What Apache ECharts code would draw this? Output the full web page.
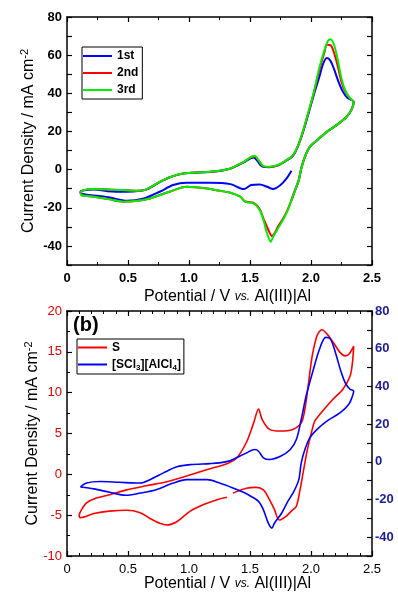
<!DOCTYPE html>
<html>
<head>
<meta charset="utf-8">
<script src="https://cdn.jsdelivr.net/npm/echarts@6/dist/echarts.min.js"></script>
<style>
  html, body { margin: 0; padding: 0; background: #fff; }
  #chart { width: 398px; height: 595px; }
</style>
</head>
<body>
<div id="chart"></div>
<script>
// (a) CV cycles, potential V vs current density mA cm-2
const cycle1 = [
  [1.84,-0.6],[1.80,-4.6],[1.75,-8.1],[1.69,-10.2],[1.64,-9.0],[1.58,-7.8],[1.51,-8.1],[1.45,-10.2],
  [1.34,-7.6],[1.17,-6.9],[0.98,-6.9],[0.87,-8.1],[0.76,-11.6],[0.63,-15.1],[0.49,-16.3],[0.35,-14.6],
  [0.22,-13.6],[0.12,-12.6],[0.11,-11.8],[0.13,-11.0],[0.22,-10.4],[0.33,-11.3],[0.49,-11.6],[0.60,-11.1],
  [0.66,-10.2],[0.76,-6.6],[0.85,-3.9],[0.95,-2.1],[1.05,-1.6],[1.17,-1.2],[1.25,-0.7],[1.34,0.5],
  [1.40,2.3],[1.45,3.8],[1.51,6.0],[1.53,6.3],[1.56,4.6],[1.60,1.6],[1.66,1.3],[1.73,2.2],[1.80,4.8],
  [1.84,6.5],[1.87,9.0],[1.91,15.0],[1.96,25.0],[2.02,38.5],[2.07,49.0],[2.10,55.5],[2.13,58.5],
  [2.16,57.0],[2.19,52.5],[2.22,47.0],[2.26,41.0],[2.30,37.5],[2.35,35.5],[2.33,31.2],[2.29,27.6],
  [2.21,23.3],[2.13,19.8],[2.05,15.4],[1.99,11.9],[1.95,6.7],[1.92,0.6],[1.90,-5.5],[1.87,-10.7],[1.84,-16.0]
];
const cycle2 = [
  [0.11,-12.0],[0.13,-10.9],[0.20,-10.1],[0.30,-10.3],[0.44,-10.7],[0.58,-11.1],[0.64,-10.6],[0.70,-8.6],
  [0.76,-6.4],[0.85,-3.8],[0.95,-2.0],[1.05,-1.5],[1.17,-1.1],[1.25,-0.6],[1.34,0.6],[1.40,2.5],
  [1.45,4.1],[1.51,6.5],[1.54,6.9],[1.57,4.8],[1.61,1.7],[1.66,1.4],[1.73,2.3],[1.80,4.9],[1.84,6.6],
  [1.87,9.2],[1.91,15.3],[1.96,25.6],[2.02,39.5],[2.07,52.5],[2.11,61.5],[2.13,65.5],[2.16,65.3],
  [2.19,61.0],[2.22,54.0],[2.25,46.0],[2.28,41.0],[2.32,37.3],[2.35,35.5],[2.33,31.2],[2.29,27.6],
  [2.21,23.3],[2.13,19.8],[2.05,15.4],[1.99,11.9],[1.95,6.7],[1.92,0.6],[1.90,-5.5],[1.87,-10.7],
  [1.84,-16.0],[1.81,-20.8],[1.77,-25.8],[1.73,-29.8],[1.70,-33.5],[1.68,-34.8],[1.65,-31.5],[1.61,-25.6],
  [1.58,-20.8],[1.53,-17.5],[1.46,-16.7],[1.42,-14.2],[1.34,-12.1],[1.25,-11.1],[1.15,-9.9],[0.98,-9.0],
  [0.84,-11.6],[0.68,-15.1],[0.56,-16.5],[0.46,-16.8],[0.35,-15.6],[0.22,-14.2],[0.12,-13.4],[0.11,-12.0]
];
const cycle3 = [
  [0.11,-12.0],[0.13,-10.9],[0.20,-10.1],[0.30,-10.3],[0.44,-10.7],[0.58,-11.1],[0.64,-10.6],[0.70,-8.6],
  [0.76,-6.4],[0.85,-3.8],[0.95,-2.0],[1.05,-1.5],[1.17,-1.1],[1.25,-0.6],[1.34,0.6],[1.40,2.5],
  [1.45,4.1],[1.51,6.7],[1.54,7.1],[1.57,5.0],[1.61,1.8],[1.66,1.5],[1.73,2.4],[1.80,5.0],[1.84,6.7],
  [1.87,9.3],[1.91,15.4],[1.96,25.9],[2.02,39.9],[2.07,53.8],[2.11,62.6],[2.14,67.5],[2.16,68.3],
  [2.19,65.2],[2.22,57.3],[2.25,47.7],[2.28,41.6],[2.32,37.3],[2.35,35.5],[2.33,31.2],[2.29,27.6],
  [2.21,23.3],[2.13,19.8],[2.05,15.4],[1.99,11.9],[1.95,6.7],[1.92,0.6],[1.90,-5.5],[1.87,-10.7],
  [1.84,-16.0],[1.81,-21.2],[1.77,-26.4],[1.73,-30.8],[1.69,-35.2],[1.67,-37.8],[1.64,-33.4],[1.61,-26.4],
  [1.58,-21.2],[1.53,-17.7],[1.46,-16.8],[1.42,-14.2],[1.34,-12.1],[1.25,-11.1],[1.15,-9.9],[0.98,-9.0],
  [0.84,-11.6],[0.68,-15.1],[0.56,-16.5],[0.46,-16.8],[0.35,-15.6],[0.22,-14.2],[0.12,-13.4],[0.11,-12.0]
];

// (b) S on left axis, [SCl3][AlCl4] on right axis
const sulfur = [
  [1.31,-2.8],[1.23,-3.1],[1.12,-3.7],[1.01,-4.5],[0.90,-5.8],[0.82,-6.2],[0.76,-6.0],[0.68,-5.4],
  [0.60,-4.7],[0.49,-4.4],[0.35,-4.5],[0.22,-4.8],[0.11,-5.3],[0.10,-5.0],[0.12,-4.3],[0.16,-3.5],
  [0.24,-2.9],[0.35,-2.5],[0.49,-1.9],[0.65,-1.4],[0.82,-0.9],[0.98,-0.2],[1.15,0.6],[1.31,1.3],
  [1.39,2.0],[1.47,3.9],[1.53,6.3],[1.57,8.0],[1.60,6.7],[1.66,5.5],[1.75,5.3],[1.85,5.5],[1.92,6.3],
  [1.95,8.0],[1.98,11.2],[2.01,14.5],[2.05,17.0],[2.09,17.7],[2.13,17.2],[2.18,16.2],[2.24,14.9],
  [2.28,14.5],[2.31,14.7],[2.35,15.7],[2.34,13.7],[2.32,12.0],[2.26,10.4],[2.18,9.2],[2.07,7.3],
  [2.03,6.5],[2.01,5.5],[1.97,3.0],[1.94,0.6],[1.91,-1.9],[1.88,-3.9],[1.84,-4.5],[1.79,-5.2],
  [1.74,-5.6],[1.70,-4.3],[1.66,-3.1],[1.61,-1.9],[1.55,-1.6],[1.47,-1.7],[1.36,-2.3]
];
const scl3 = [
  [0.11,-13.4],[0.16,-11.3],[0.27,-10.5],[0.43,-10.9],[0.60,-11.3],[0.68,-9.5],[0.79,-5.9],[0.90,-2.7],
  [1.01,-1.5],[1.17,-1.0],[1.25,-0.6],[1.34,0.6],[1.39,2.1],[1.47,4.7],[1.54,6.5],[1.57,5.6],[1.61,2.1],
  [1.66,1.2],[1.75,2.9],[1.83,6.5],[1.88,11.8],[1.92,22.5],[1.96,34.9],[2.02,49.1],[2.07,59.8],
  [2.12,66.0],[2.16,65.1],[2.20,58.0],[2.24,49.1],[2.28,42.0],[2.32,38.5],[2.35,37.6],[2.34,34.9],
  [2.31,30.5],[2.24,26.1],[2.13,21.6],[2.05,17.2],[1.99,12.7],[1.95,6.5],[1.92,-0.6],[1.90,-9.5],
  [1.86,-15.7],[1.81,-21.0],[1.76,-27.2],[1.70,-32.6],[1.68,-35.2],[1.65,-32.6],[1.61,-25.5],[1.57,-21.0],
  [1.51,-18.4],[1.46,-16.6],[1.36,-13.9],[1.25,-11.3],[1.15,-9.5],[0.98,-9.5],[0.87,-11.3],[0.73,-14.8],
  [0.60,-16.6],[0.48,-17.8],[0.35,-16.2],[0.22,-14.4],[0.11,-13.4]
];

const legendA = ['1st', '2nd', '3rd'];
const legendB = ['S', '[SCl3][AlCl4]'];

const FONT = '"Liberation Sans", Arial, sans-serif';
const xName = 'Potential / V {i|vs.} Al(III)|Al';
const yName = 'Current Density / mA cm{sup|-2}';

function xAxisCfg(grid, pos, showLabel, minorSplit, nameGap, bold) {
  return {
    type: 'value', gridIndex: grid, position: pos, min: 0, max: 2.5, interval: 0.5,
    axisLine: { show: true, onZero: false, lineStyle: { color: '#000', width: 1.5 } },
    axisTick: { show: true, inside: true, length: 5, lineStyle: { color: '#000', width: 1.2 } },
    minorTick: { show: true, splitNumber: minorSplit, length: 3, lineStyle: { color: '#000', width: 1 } },
    splitLine: { show: false },
    axisLabel: {
      show: showLabel, margin: 7, color: '#000', fontSize: 13, fontFamily: FONT,
      fontWeight: bold ? 'bold' : 'normal',
      formatter: v => v === 0 ? '0' : v.toFixed(1)
    },
    name: showLabel ? xName : '', nameLocation: 'middle', nameGap: nameGap, nameMoveOverlap: false,
    nameTextStyle: {
      color: '#000', fontSize: 16, fontFamily: FONT, padding: [0, 0, 0, 16],
      rich: { i: { fontSize: 12, fontStyle: 'italic', fontFamily: FONT, color: '#000' } }
    }
  };
}

function yAxisCfg(grid, pos, min, max, interval, opts) {
  return {
    type: 'value', gridIndex: grid, position: pos, min: min, max: max, interval: interval,
    axisLine: { show: true, onZero: false, lineStyle: { color: '#000', width: 1.5 } },
    axisTick: { show: true, inside: true, length: 5, lineStyle: { color: '#000', width: 1.2 } },
    minorTick: { show: !!opts.minor, splitNumber: opts.minor || 2, length: 3, lineStyle: { color: '#000' } },
    splitLine: { show: false },
    axisLabel: {
      show: !!opts.label, margin: opts.margin || 5, color: opts.color || '#000', fontSize: 13,
      fontFamily: FONT, fontWeight: opts.bold ? 'bold' : 'normal',
      formatter: opts.step ? (v => v % opts.step === 0 ? String(v) : '') : (v => String(v))
    },
    name: opts.name ? yName : '', nameLocation: 'middle', nameGap: opts.nameGap || 30,
    nameMoveOverlap: false,
    nameTextStyle: {
      color: '#000', fontSize: 16, fontFamily: FONT,
      rich: { sup: { fontSize: 11, fontFamily: FONT, color: '#000', verticalAlign: 'top', lineHeight: 20 } }
    }
  };
}

function line(name, data, color, xi, yi, width) {
  return {
    name: name, type: 'line', data: data, xAxisIndex: xi, yAxisIndex: yi,
    showSymbol: false, symbol: 'none', smooth: 0.3,
    lineStyle: { color: color, width: width }, itemStyle: { color: color }
  };
}

const chart = echarts.init(document.getElementById('chart'), null, { renderer: 'canvas' });
chart.setOption({
  animation: false,
  backgroundColor: '#fff',
  title: {
    text: '(b)', left: 73, top: 315, padding: 0,
    textStyle: { fontSize: 20, fontWeight: 'bold', fontFamily: FONT, color: '#000' }
  },
  grid: [
    { left: 67, right: 26, top: 17, height: 248 },
    { left: 67, right: 26, top: 311, height: 245 }
  ],
  legend: [
    {
      data: legendA, orient: 'vertical', left: 82, top: 47, padding: [2, 4, 2, 1],
      itemWidth: 29, itemHeight: 2, itemGap: 3, icon: 'rect',
      borderColor: '#000', borderWidth: 1,
      textStyle: { fontSize: 12, fontWeight: 'bold', fontFamily: FONT, color: '#000', lineHeight: 14 }
    },
    {
      data: legendB, orient: 'vertical', left: 77, top: 339, padding: [1, 3, 2, 1],
      itemWidth: 29, itemHeight: 2, itemGap: 2, icon: 'rect',
      borderColor: '#000', borderWidth: 1,
      formatter: n => n === 'S' ? 'S' : '[SCl{sub|3}][AlCl{sub|4}]',
      textStyle: {
        fontSize: 12, fontWeight: 'bold', fontFamily: FONT, color: '#000', lineHeight: 15,
        rich: { sub: { fontSize: 8, fontWeight: 'bold', fontFamily: FONT, color: '#000', verticalAlign: 'bottom', lineHeight: 15 } }
      }
    }
  ],
  xAxis: [
    xAxisCfg(0, 'bottom', true, 2, 24, true),
    xAxisCfg(0, 'top', false, 2, 24, true),
    xAxisCfg(1, 'bottom', true, 5, 20, false),
    xAxisCfg(1, 'top', false, 5, 20, false)
  ],
  yAxis: [
    yAxisCfg(0, 'left', -50, 80, 10, { label: true, step: 20, bold: true, name: true, nameGap: 28 }),
    yAxisCfg(0, 'right', -50, 80, 10, {}),
    yAxisCfg(1, 'left', -10, 20, 5, { label: true, color: '#e00000', minor: 2, name: true, nameGap: 24 }),
    yAxisCfg(1, 'right', -50, 80, 10, { label: true, step: 20, bold: true, color: '#1c1c9c', margin: 3 })
  ],
  series: [
    line('1st', cycle1, '#0000ff', 0, 0, 2),
    line('2nd', cycle2, '#ff0000', 0, 0, 2),
    line('3rd', cycle3, '#00ee00', 0, 0, 2),
    line('S', sulfur, '#ff0000', 2, 2, 1.6),
    line('[SCl3][AlCl4]', scl3, '#0000ff', 2, 3, 1.6)
  ]
});
</script>
</body>
</html>
